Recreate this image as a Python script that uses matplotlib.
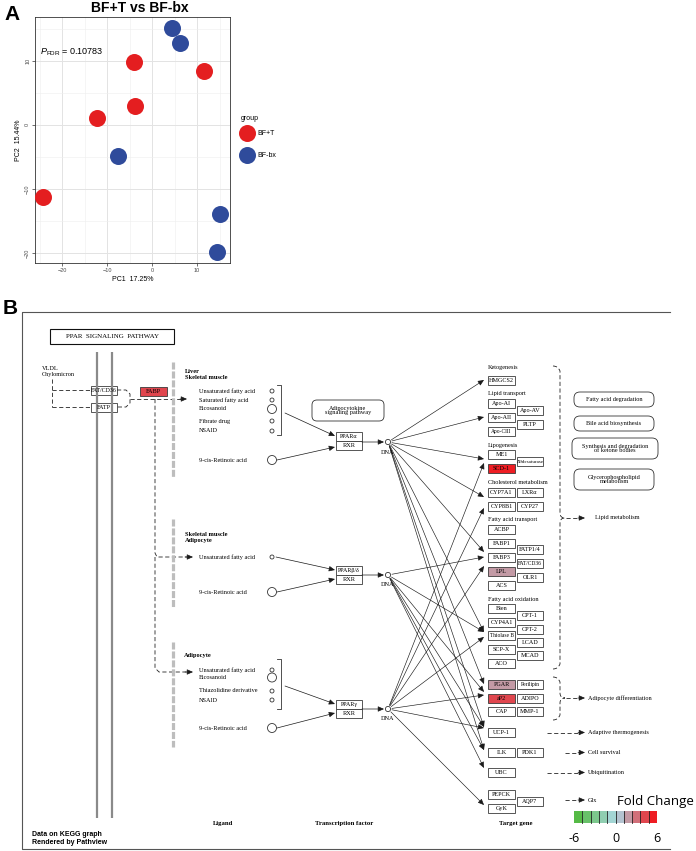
import numpy as np
import matplotlib
matplotlib.use('Agg')
import matplotlib.pyplot as plt
from matplotlib.patches import Rectangle, FancyBboxPatch, Circle, FancyArrowPatch, PathPatch
from matplotlib.path import Path
from matplotlib.colors import LinearSegmentedColormap

plt.rcParams['font.family'] = ['Liberation Sans', 'DejaVu Sans']
plt.rcParams['mathtext.fontset'] = 'custom'
plt.rcParams['mathtext.it'] = 'Liberation Sans:italic'
plt.rcParams['mathtext.rm'] = 'Liberation Sans'

# ---------------- Panel A data ----------------
group_names = ['BF+T', 'BF-bx']
pc1_bft = [-4.0, 11.6, -3.9, -12.3, -24.4]
pc2_bft = [9.8, 8.4, 3.0, 1.1, -11.3]
pc1_bfbx = [4.5, 6.2, -7.6, 15.1, 14.3]
pc2_bfbx = [15.1, 12.8, -4.8, -13.8, -19.8]
pc1_var = '17.25'
pc2_var = '15.44'
p_fdr = '0.10783'
a_xticks = [-20, -10, 0, 10]
a_yticks = [-20, -10, 0, 10]

# ---------------- Panel B data ----------------
colored_genes = ['FABP', 'SCD-1', 'LPL', 'PGAR', 'aP2']
colored_fc = [4.0, 5.8, 1.8, 1.8, 4.2]
fc_ticks = [-6, 0, 6]
n_bins = 10

genes_col1 = ['HMGCS2', 'Apo-AI', 'Apo-AII', 'Apo-CIII', 'ME1', 'SCD-1', 'CYP7A1', 'CYP8B1',
              'ACBP', 'FABP1', 'FABP3', 'LPL', 'ACS', 'Bien', 'CYP4A1', 'Thiolase B', 'SCP-X',
              'ACO', 'PGAR', 'aP2', 'CAP', 'UCP-1', 'ILK', 'UBC', 'PEPCK', 'GyK']
genes_col2 = ['Apo-AV', 'PLTP', 'Δ9desaturase', 'LXRα', 'CYP27', 'FATP1/4', 'FAT/CD36', 'OLR1',
              'CPT-1', 'CPT-2', 'LCAD', 'MCAD', 'Perilipin', 'ADIPO', 'MMP-1', 'PDK1', 'AQP7']
group_labels = ['Ketogenesis', 'Lipid transport', 'Lipogenesis', 'Cholesterol metabolism',
                'Fatty acid transport', 'Fatty acid oxidation']
outcome_labels = ['Lipid metabolism', 'Adipocyte differentiation', 'Adaptive thermogenesis',
                  'Cell survival', 'Ubiquitination', 'Glx']
related_paths = ['Fatty acid degradation', 'Bile acid biosynthesis',
                 'Synthesis and degradation\nof ketone bodies', 'Glycerophospholipid\nmetabolism']
ligands_1 = ['Unsaturated fatty acid', 'Saturated fatty acid', 'Eicosanoid', 'Fibrate drug', 'NSAID']
ligands_2 = ['Unsaturated fatty acid']
ligands_3 = ['Unsaturated fatty acid', 'Eicosanoid', 'Thiazolidine derivative', 'NSAID']
tissues = ['Liver\nSkeletal muscle', 'Skeletal muscle\nAdipocyte', 'Adipocyte']
tf_names = ['PPARα', 'PPARβ/δ', 'PPARγ']

# ---------------- layout (positions in pixels) ----------------
col1_y = [380, 403, 417.5, 431, 454.5, 468, 492.5, 506, 529.5, 543, 557, 571, 585, 608.5, 622,
          635.5, 649.5, 663.5, 684.5, 698, 711.5, 732.5, 752.5, 772.5, 794, 808]
col2_y = [410.5, 424, 461.5, 492.5, 506, 549.5, 563.5, 577.5, 615.5, 629, 642, 655.5, 684.5,
          698, 711.5, 752.5, 801]
group_label_y = [368, 393, 445, 482, 520, 599]
C1 = (488, 515)
C2 = (517, 543)
BH = 9.0

# colour map (pathview-like binning)
cmap = LinearSegmentedColormap.from_list('fc', ['#55BA46', '#ADD8E6', '#EE1D23'])
bin_edges = np.linspace(fc_ticks[0], fc_ticks[-1], n_bins + 1)
bin_colors = [cmap(i / (n_bins - 1)) for i in range(n_bins)]
fc_map = dict(zip(colored_genes, colored_fc))


def fc_color(name):
    if name not in fc_map:
        return 'white'
    v = fc_map[name]
    idx = int(np.clip(np.searchsorted(bin_edges, v, side='right') - 1, 0, n_bins - 1))
    return bin_colors[idx]


fig = plt.figure(figsize=(6.96, 8.51), dpi=100)
ov = fig.add_axes([0, 0, 1, 1])
ov.set_xlim(0, 696)
ov.set_ylim(851, 0)
ov.axis('off')

SERIF = ['Liberation Serif', 'DejaVu Serif']
EC = '#3a3a3a'


def txt(x, y, s, size=4.5, ha='left', va='center', bold=False, fam=SERIF, **kw):
    ov.text(x, y, s, fontsize=size, ha=ha, va=va, fontweight='bold' if bold else 'normal',
            family=fam, **kw)


def gbox(x0, x1, yc, name, size=4.5):
    ov.add_patch(Rectangle((x0, yc - BH / 2), x1 - x0, BH, fc=fc_color(name), ec=EC, lw=0.6))
    txt((x0 + x1) / 2, yc + 0.3, name, size=size, ha='center')


def arrow(p0, p1, ls='-', lw=0.5, hl=3.6, hw=1.6):
    ov.add_patch(FancyArrowPatch(p0, p1, arrowstyle=f'-|>,head_length={hl},head_width={hw}',
                                 mutation_scale=1, lw=lw, color='#1a1a1a', linestyle=ls,
                                 shrinkA=0, shrinkB=0))


DASH = (0, (5, 3))


def dline(xs, ys, lw=0.6):
    ov.plot(xs, ys, color='#222', lw=lw, ls=DASH)


# ================= PANEL A =================
ov.text(4, 15, 'A', fontsize=15, fontweight='bold', va='center', ha='left')
ov.text(140, 8, 'BF+T vs BF-bx', fontsize=10, fontweight='bold', ha='center', va='center')

axA = fig.add_axes([35 / 696, 1 - 263 / 851, 195 / 696, 246 / 851])
axA.scatter(pc1_bft, pc2_bft, s=150, c='#E41E20', lw=0, label=group_names[0], zorder=3)
axA.scatter(pc1_bfbx, pc2_bfbx, s=150, c='#2F4B9B', lw=0, label=group_names[1], zorder=3)
axA.set_xlim(-26.1, 17.3)
axA.set_ylim(-21.5, 16.8)
axA.set_xticks(a_xticks)
axA.set_yticks(a_yticks)
axA.set_xticks([-25, -15, -5, 5, 15], minor=True)
axA.set_yticks([-15, -5, 5, 15], minor=True)
axA.grid(which='major', color='#E3E3E3', lw=0.7)
axA.grid(which='minor', color='#EEEEEE', lw=0.4)
axA.set_axisbelow(True)
axA.tick_params(which='minor', length=0)
axA.tick_params(which='major', length=2, width=0.5, color='#333', labelsize=4,
                labelcolor='#4D4D4D', pad=1.5)
axA.tick_params(axis='y', labelrotation=90)
for lab in axA.get_yticklabels():
    lab.set_va('center')
for sp in axA.spines.values():
    sp.set_color('#333')
    sp.set_linewidth(0.6)
axA.set_xlabel(f'PC1  {pc1_var}%', fontsize=5, labelpad=2)
axA.set_ylabel(f'PC2  {pc2_var}%', fontsize=5, labelpad=2)
axA.text(0.027, 0.855, r'$P_{\mathrm{FDR}}$' + f' = {p_fdr}', transform=axA.transAxes,
         fontsize=6.5, va='center')
leg = axA.legend(title='group', loc='upper left', bbox_to_anchor=(241 / 696, 1 - 115 / 851),
                 bbox_transform=fig.transFigure, frameon=False, fontsize=5, title_fontsize=5,
                 handlelength=1.6, handleheight=1.0, labelspacing=2.1, handletextpad=0.7,
                 borderpad=0, borderaxespad=0)
leg._legend_box.align = 'left'
leg._legend_box.sep = 5.5

# ================= PANEL B =================
ov.text(3, 309, 'B', fontsize=15, fontweight='bold', va='center', ha='left')
ov.plot([670, 22, 22, 670], [312, 312, 849, 849], color='#555', lw=0.8)

# title box
ov.add_patch(Rectangle((50, 329), 124, 15, fc='white', ec='#111', lw=0.8))
txt(112, 336.8, 'PPAR  SIGNALING  PATHWAY', size=5.0, ha='center')

# membrane
for xm in (97, 112):
    ov.plot([xm, xm], [352, 818], color='#8a8a8a', lw=1.6, solid_capstyle='butt')

txt(42, 368, 'VLDL', size=4.5)
txt(42, 374.5, 'Chylomicron', size=4.5)
dline([52, 52], [379, 407])
dline([52, 91], [390, 390])
dline([52, 91], [407, 407])
dline([117, 126, 130, 130, 126, 117], [390, 390, 394, 403, 407, 407])
dline([130, 183], [399, 399])
arrow((180, 399), (187, 399))
gbox(91, 117, 390.5, 'FAT/CD36', size=4.2)
gbox(91, 117, 407.5, 'FATP')
ov.add_patch(Rectangle((140, 387), 27, 9, fc=fc_color('FABP'), ec=EC, lw=0.6))
txt(153.5, 391.8, 'FABP', size=4.5, ha='center')

# dashed route downward
dline([155, 155, 157, 188], [399, 553, 557, 557])
arrow((185, 557), (193, 557))
dline([155, 155, 159, 188], [557, 668, 672, 672])
arrow((185, 672), (193, 672))

# grey tissue separators
for y0, y1 in [(362, 478), (519, 607), (642, 747)]:
    ov.plot([173, 173], [y0, y1], color='#bdbdbd', lw=2.3, ls=(0, (2.2, 0.6)),
            solid_capstyle='butt')

# tissue headers
txt(185, 374.5, tissues[0], size=4.6, bold=True, linespacing=1.05)
txt(185, 537.5, tissues[1], size=4.6, bold=True, linespacing=1.05)
txt(184, 655, tissues[2], size=4.6, bold=True)

# ligands block 1
lig1_y = [391, 400, 409, 421, 431]
lig1_r = [2, 2, 4.5, 2, 2]
for name, y, r in zip(ligands_1, lig1_y, lig1_r):
    txt(199, y, name)
    ov.add_patch(Circle((272, y), r, fc='white', ec='#333', lw=0.6))
txt(199, 460, '9-cis-Retinoic acid')
ov.add_patch(Circle((272, 460), 4.5, fc='white', ec='#333', lw=0.6))
ov.plot([277, 281, 281, 277], [385, 385, 435, 435], color='#333', lw=0.6)
arrow((285, 413), (335, 436))
arrow((277, 460), (335, 447))

# ligands block 2
txt(199, 557, ligands_2[0])
ov.add_patch(Circle((272, 557), 2, fc='white', ec='#333', lw=0.6))
txt(199, 592, '9-cis-Retinoic acid')
ov.add_patch(Circle((272, 592), 4.5, fc='white', ec='#333', lw=0.6))
arrow((276, 557), (335, 570))
arrow((277, 592), (335, 579))

# ligands block 3
lig3_y = [670, 677.5, 691, 700]
lig3_r = [2, 4.5, 2, 2]
for name, y, r in zip(ligands_3, lig3_y, lig3_r):
    txt(199, y, name)
    ov.add_patch(Circle((272, y), r, fc='white', ec='#333', lw=0.6))
txt(199, 728, '9-cis-Retinoic acid')
ov.add_patch(Circle((272, 728), 4.5, fc='white', ec='#333', lw=0.6))
ov.plot([277, 281, 281, 277], [659, 659, 709, 709], color='#333', lw=0.6)
arrow((285, 686), (335, 704))
arrow((277, 728), (335, 713))

# adipocytokine box
ov.add_patch(FancyBboxPatch((312, 400), 72, 21, boxstyle='round,pad=0,rounding_size=5',
                            fc='white', ec='#333', lw=0.6))
txt(348, 410.5, 'Adipocytokine\nsignaling pathway', size=4.5, ha='center', linespacing=0.9)

# transcription factors + DNA
tf_top = [432, 566, 700]
dna_xy = [(388, 442), (388, 575), (388, 709)]
for name, yt, (dx, dy) in zip(tf_names, tf_top, dna_xy):
    gbox(336, 362, yt + 4.5, name, size=4.3)
    gbox(336, 362, yt + 13.5, 'RXR')
    arrow((362, dy), (384, dy))
    ov.add_patch(Circle((dx, dy), 2.6, fc='white', ec='#333', lw=0.6))
    txt(dx, dy + 10, 'DNA', size=4.5, ha='center')

# DNA -> target gene edges
edge_targets = [[380, 417, 459, 497, 552, 632, 684, 727, 750],
                [557, 632, 692, 727, 750, 768],
                [463, 508, 566, 637, 695, 728, 805]]
for (dx, dy), tgts in zip(dna_xy, edge_targets):
    for ty in tgts:
        vx, vy = 484 - dx, ty - dy
        n = np.hypot(vx, vy)
        arrow((dx + 4 * vx / n, dy + 4 * vy / n), (484, ty), lw=0.45)

# target gene boxes
for name, y in zip(genes_col1, col1_y):
    gbox(C1[0], C1[1], y, name, size=4.4 if len(name) < 8 else 4.0)
for name, y in zip(genes_col2, col2_y):
    gbox(C2[0], C2[1], y, name, size=4.4 if len(name) < 8 else (3.6 if len(name) > 9 else 4.0))
for lab, y in zip(group_labels, group_label_y):
    txt(488, y, lab)

# braces
def brace(y0, y1, ym):
    verts = [(553, y0), (558, y0), (560, y0 + 5), (560, ym - 5), (560, ym), (565, ym),
             (560, ym), (560, ym + 5), (560, y1 - 5), (558, y1), (553, y1)]
    codes = [Path.MOVETO, Path.CURVE3, Path.CURVE3, Path.LINETO, Path.CURVE3, Path.CURVE3,
             Path.CURVE3, Path.CURVE3, Path.LINETO, Path.CURVE3, Path.CURVE3]
    ov.add_patch(PathPatch(Path(verts, codes), fc='none', ec='#222', lw=0.6, ls=DASH))

brace(366, 669, 518)
brace(677, 720, 698)

out_y = [518, 698, 732.5, 752.5, 772.5, 800]
out_x0 = [566, 566, 547, 565, 547, 565]
for lab, y, x0 in zip(outcome_labels, out_y, out_x0):
    dline([x0, 580], [y, y])
    arrow((578, y), (585, y))
    txt(595 if lab == 'Lipid metabolism' else 588, y, lab)

# related pathway boxes
rp_boxes = [(574, 392, 80, 15), (574, 416, 80, 15), (572, 438, 86, 21), (574, 469, 80, 21)]
for lab, (x, y, w, h) in zip(related_paths, rp_boxes):
    ov.add_patch(FancyBboxPatch((x, y), w, h, boxstyle='round,pad=0,rounding_size=6',
                                fc='white', ec='#333', lw=0.6))
    txt(x + w / 2, y + h / 2, lab, ha='center', linespacing=0.9)

# bottom labels
txt(223, 823, 'Ligand', size=4.8, ha='center', bold=True)
txt(344, 823, 'Transcription factor', size=4.8, ha='center', bold=True)
txt(516, 824, 'Target gene', size=4.8, ha='center', bold=True)
ov.text(32, 834, 'Data on KEGG graph', fontsize=5, fontweight='bold', va='center')
ov.text(32, 843, 'Rendered by Pathview', fontsize=5, fontweight='bold', va='center')

# fold change colour key
bx0, bx1, by0, by1 = 574, 657, 811, 823
bw = (bx1 - bx0) / n_bins
for i, c in enumerate(bin_colors):
    ov.add_patch(Rectangle((bx0 + i * bw, by0), bw, by1 - by0, fc=c, ec='none'))
for i in range(1, n_bins):
    ov.plot([bx0 + i * bw] * 2, [by0, by1], color='#222', lw=0.6)
for v in fc_ticks:
    xx = bx0 + (v - fc_ticks[0]) / (fc_ticks[-1] - fc_ticks[0]) * (bx1 - bx0)
    ov.text(xx, 838, str(v), fontsize=9, ha='center', va='center', family=['Open Sans', 'DejaVu Sans'])
ov.text(655, 802, 'Fold Change', fontsize=9.5, ha='center', va='center',
        family=['Open Sans', 'DejaVu Sans'])

fig.savefig('out.png', dpi=100)
